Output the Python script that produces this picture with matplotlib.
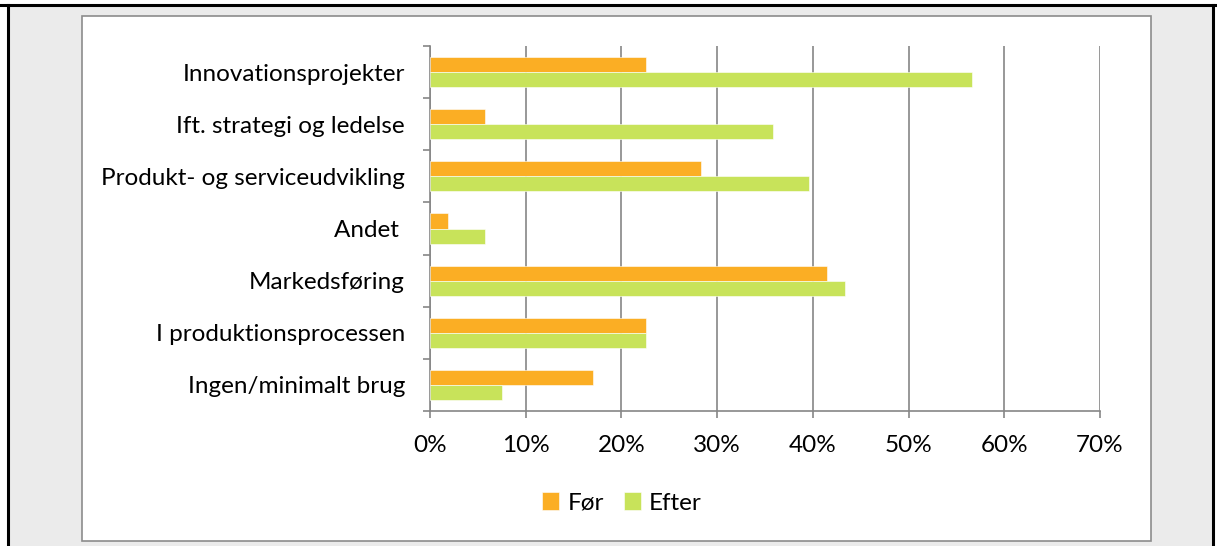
import matplotlib
matplotlib.use('Agg')
import matplotlib.pyplot as plt
from matplotlib.patches import Rectangle
import numpy as np

plt.rcParams['font.family'] = ['Lato', 'DejaVu Sans']

# categories, top to bottom as in the chart
categories = ['Innovationsprojekter', 'Ift. strategi og ledelse', 'Produkt- og serviceudvikling',
              'Andet ', 'Markedsføring', 'I produktionsprocessen', 'Ingen/minimalt brug']
foer = [22.6, 5.7, 28.3, 1.9, 41.5, 22.6, 17.0]
efter = [56.6, 35.8, 39.6, 5.7, 43.4, 22.6, 7.5]
x_ticks = [0, 10, 20, 30, 40, 50, 60, 70]

color_foer = '#FBAE24'
color_efter = '#C8E35A'
grid_color = '#868686'
fs = 17.5

W, H = 1217, 546
fig = plt.figure(figsize=(W / 100, H / 100), dpi=100)
fig.patch.set_facecolor('white')

# grey page background, black frame and white chart panel
fig.patches.append(Rectangle((8 / W, 0), (1213 - 8) / W, 1 - 6 / H, transform=fig.transFigure,
                             facecolor='#EBEBEB', edgecolor='none', zorder=0))
fig.add_artist(plt.Line2D([0, 1], [1 - 5 / H, 1 - 5 / H], transform=fig.transFigure, color='black', lw=2.2))
fig.add_artist(plt.Line2D([8 / W, 8 / W], [0, 1 - 5 / H], transform=fig.transFigure, color='black', lw=2.2))
fig.add_artist(plt.Line2D([1213 / W, 1213 / W], [0, 1 - 5 / H], transform=fig.transFigure, color='black', lw=2.2))
fig.patches.append(Rectangle((82 / W, 1 - 541 / H), (1151 - 82) / W, (541 - 16) / H, transform=fig.transFigure,
                             facecolor='white', edgecolor='#8C8C8C', lw=1.2, zorder=1))

ax = fig.add_axes([430 / W, 1 - 411 / H, 670 / W, (411 - 46) / H], zorder=2)
ax.set_facecolor('none')

n = len(categories)
y = np.arange(n)
h = 0.29
ax.barh(y - h / 2, foer, height=h, color=color_foer, edgecolor='white', lw=0.4, label='Før', zorder=3)
ax.barh(y + h / 2, efter, height=h, color=color_efter, edgecolor='white', lw=0.4, label='Efter', zorder=3)

ax.set_ylim(n - 0.5, -0.5)
ax.set_xlim(0, 70)
ax.set_xticks(x_ticks)
ax.set_xticklabels([f'{t}%' for t in x_ticks], fontsize=fs)
ax.set_yticks(y)
ax.set_yticklabels(categories, fontsize=fs)
ax.set_yticks(np.arange(n + 1) - 0.5, minor=True)
ax.tick_params(axis='y', which='major', length=0, pad=18)
ax.tick_params(axis='y', which='minor', length=5, color=grid_color, width=1.2)
ax.tick_params(axis='x', length=5, color=grid_color, width=1.2, pad=12)

ax.grid(axis='x', color=grid_color, lw=1.2, zorder=1)
ax.set_axisbelow(True)
for s in ['top', 'right']:
    ax.spines[s].set_visible(False)
for s in ['left', 'bottom']:
    ax.spines[s].set_color(grid_color)
    ax.spines[s].set_linewidth(1.2)

fig.legend(loc='center', bbox_to_anchor=(622 / W, 1 - 503 / H), ncol=2, frameon=False,
           fontsize=fs, handlelength=0.7, handleheight=0.7, handletextpad=0.35, columnspacing=0.8)

fig.savefig('out.png', dpi=100)
